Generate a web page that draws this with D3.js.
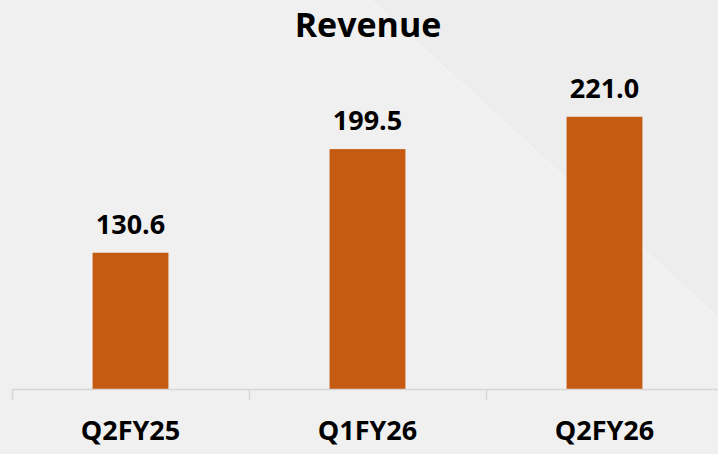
<!DOCTYPE html>
<html>
<head>
<meta charset="utf-8">
<script src="https://cdn.jsdelivr.net/npm/d3@7"></script>
<style>
  html, body { margin: 0; padding: 0; background: #F0F0F0; }
  svg { display: block; }
</style>
</head>
<body>
<svg id="chart" width="718" height="454"></svg>
<script>
const title = "Revenue";
const categories = ["Q2FY25", "Q1FY26", "Q2FY26"];
const revenue = [130.6, 199.5, 221.0];
const valueLabels = ["130.6", "199.5", "221.0"];

const W = 718, H = 454;
const svg = d3.select("#chart");
const font = "'Open Sans', 'Noto Sans', sans-serif";

// background
svg.append("rect").attr("width", W).attr("height", H).attr("fill", "#F0F0F0");
svg.append("path")
  .attr("d", "M370,0 L718,0 L718,318 Z")
  .attr("fill", "#EDEDED");
svg.append("line")
  .attr("x1", 370).attr("y1", 0).attr("x2", 718).attr("y2", 318)
  .attr("stroke", "#F2F2F2").attr("stroke-width", 2);

const x = d3.scaleBand()
  .domain(categories)
  .range([12, 723])
  .paddingInner(0.68)
  .paddingOuter(0.34);

const y = d3.scaleLinear()
  .domain([40, 250])
  .range([389, 389 - 210 * 1.504]);

// bars
svg.append("g").selectAll("rect")
  .data(categories)
  .join("rect")
  .attr("x", d => x(d))
  .attr("width", x.bandwidth())
  .attr("y", (d, i) => y(revenue[i]))
  .attr("height", (d, i) => y(40) - y(revenue[i]))
  .attr("fill", "#C55A11");

// axis
const axisG = svg.append("g").attr("transform", "translate(0,389.5)");
const step = x.step();
axisG.append("line")
  .attr("x1", 12).attr("x2", W).attr("stroke", "#D6D6D6").attr("stroke-width", 1.5);
const tickXs = categories.map(c => x(c) - (step - x.bandwidth()) / 2);
axisG.selectAll("line.tick")
  .data(tickXs)
  .join("line")
  .attr("class", "tick")
  .attr("x1", d => Math.round(d) + 0.5).attr("x2", d => Math.round(d) + 0.5)
  .attr("y1", 0).attr("y2", 10)
  .attr("stroke", "#D6D6D6").attr("stroke-width", 1.5);

// category labels
svg.append("g").selectAll("text")
  .data(categories)
  .join("text")
  .attr("x", d => x(d) + x.bandwidth() / 2)
  .attr("y", 440)
  .attr("text-anchor", "middle")
  .attr("font-family", font)
  .attr("font-weight", "bold")
  .attr("font-size", 27)
  .attr("fill", "#000")
  .text(d => d);

// value labels
svg.append("g").selectAll("text")
  .data(categories)
  .join("text")
  .attr("x", d => x(d) + x.bandwidth() / 2)
  .attr("y", (d, i) => y(revenue[i]) - 19)
  .attr("text-anchor", "middle")
  .attr("font-family", font)
  .attr("font-weight", "bold")
  .attr("font-size", 27)
  .attr("fill", "#000")
  .text((d, i) => valueLabels[i]);

// title
svg.append("text")
  .attr("x", 368)
  .attr("y", 37)
  .attr("text-anchor", "middle")
  .attr("font-family", font)
  .attr("font-weight", "bold")
  .attr("font-size", 34)
  .attr("fill", "#000")
  .text(title);
</script>
</body>
</html>
